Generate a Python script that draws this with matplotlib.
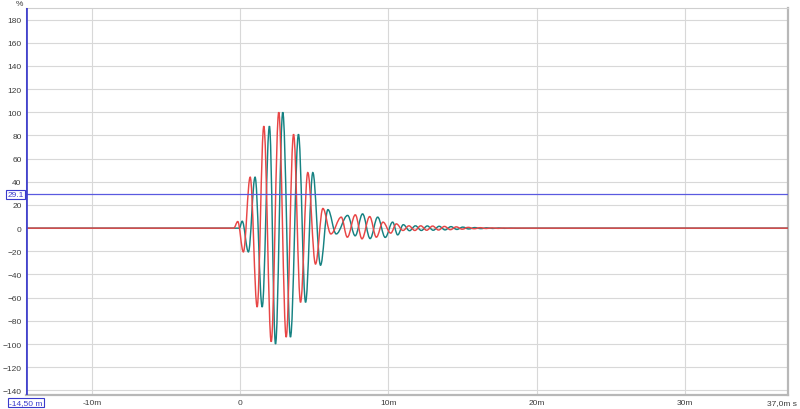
#!/usr/bin/env python3
"""Impulse response style plot: two overlaid oscillating responses."""

import matplotlib
matplotlib.use("Agg")
import matplotlib.pyplot as plt
from matplotlib.path import Path
from matplotlib.patches import PathPatch

# Extrema: time (ms) and level (%)
red_t = [-14.5, -0.45, -0.18, 0.20, 0.66, 1.13, 1.58, 2.08, 2.59, 3.09, 3.59,
         4.06, 4.55, 5.07, 5.57, 6.11, 6.81, 7.22, 7.76, 8.21, 8.73, 9.18,
         9.63, 10.15, 10.53, 10.98, 11.38, 11.78, 12.18, 12.58, 12.98, 13.38,
         13.78, 14.18, 14.58, 14.98, 15.38, 15.78, 16.2, 16.6, 17.0, 17.4,
         17.8, 18.2, 18.6, 19.5, 37.0]
red_v = [0, 0, 5.7, -20.5, 44, -68, 88, -98, 100, -94, 81,
         -64, 48, -31, 17, -5, 9.5, -7.8, 11.5, -9.2, 10, -7.8,
         5.2, -4.3, 3.7, -2.0, 2.0, -2.0, 2.0, -1.8, 1.8, -1.6,
         1.5, -1.3, 1.1, -0.9, 0.7, -0.5, 0.4, -0.3, 0.25, -0.2,
         0.15, -0.1, 0.08, 0, 0]

teal_t = [-14.5, -0.07, 0.12, 0.54, 0.99, 1.47, 1.96, 2.37, 2.86, 3.38, 3.92,
          4.40, 4.89, 5.41, 5.91, 6.47, 7.24, 7.75, 8.25, 8.76, 9.27, 9.78,
          10.28, 10.62, 11.0, 11.42, 11.82, 12.22, 12.62, 13.02, 13.42, 13.82,
          14.22, 14.62, 15.02, 15.42, 15.82, 16.24, 16.64, 17.04, 17.44,
          17.84, 18.24, 18.64, 19.6, 37.0]
teal_v = [0, 0, 6, -20.5, 44, -68, 88, -100, 100, -94, 81,
          -64, 48, -32, 16, -5, 11, -6.6, 12.3, -9.0, 9.5, -8.0,
          5.2, -5.8, 3.0, -2.2, 2.0, -2.0, 1.9, -1.8, 1.6, -1.5,
          1.3, -1.1, 0.9, -0.7, 0.5, -0.4, 0.3, -0.25, 0.2,
          -0.15, 0.1, -0.08, 0, 0]

cursor_x = -14.5
cursor_y = 29.1

x_ticks = [-10, 0, 10, 20, 30]
x_labels = ["-10m", "0", "10m", "20m", "30m"]
y_ticks = list(range(-140, 181, 20))


def smooth_path(ts, vs):
    """Cubic segments with flat tangents at every extremum."""
    verts = [(ts[0], vs[0])]
    codes = [Path.MOVETO]
    for t0, v0, t1, v1 in zip(ts[:-1], vs[:-1], ts[1:], vs[1:]):
        a = 0.3634 * (t1 - t0)
        verts += [(t0 + a, v0), (t1 - a, v1), (t1, v1)]
        codes += [Path.CURVE4] * 3
    return Path(verts, codes)


plt.rcParams["font.family"] = ["Liberation Sans", "DejaVu Sans"]
label_size = 6.0
text_grey = "#3c3c3c"
cursor_blue = "#3a3acc"

fig = plt.figure(figsize=(8.0, 4.1), dpi=100)
ax = fig.add_axes([25.7 / 800, 1 - 396 / 410, (788.3 - 25.7) / 800, (396 - 9) / 410])
ax.set_xlim(-14.5, 37.0)
ax.set_ylim(-144, 190)

ax.set_xticks(x_ticks)
ax.set_xticklabels(x_labels)
ax.set_yticks(y_ticks)
ax.tick_params(axis="both", length=0, labelsize=label_size, labelcolor=text_grey)
ax.tick_params(axis="y", pad=3)
ax.tick_params(axis="x", pad=3.2)
ax.grid(color="#d8d8d8", linewidth=0.8)
ax.set_axisbelow(True)

for side in ("top", "left"):
    ax.spines[side].set_color("#cfcfcf")
    ax.spines[side].set_linewidth(0.8)
for side in ("right", "bottom"):
    ax.spines[side].set_color("#b8b8b8")
    ax.spines[side].set_linewidth(1.6)

ax.add_patch(PathPatch(smooth_path(teal_t, teal_v), fill=False,
                       edgecolor="#168282", linewidth=1.05, zorder=3))
ax.add_patch(PathPatch(smooth_path(red_t, red_v), fill=False,
                       edgecolor="#e84646", linewidth=1.05, zorder=4))

# cursors
ax.axhline(cursor_y, color="#5a5ae0", linewidth=0.9, zorder=5)
ax.axvline(cursor_x, color="#4444cc", linewidth=2.0, zorder=5)

box = dict(boxstyle="square,pad=0.15", facecolor="white", edgecolor=cursor_blue, linewidth=0.8)
ax.annotate("29.1", xy=(0, cursor_y), xycoords=("axes fraction", "data"),
            xytext=(-1.5, 0), textcoords="offset points", ha="right", va="center",
            fontsize=label_size, color=cursor_blue, bbox=box, zorder=6)
fig.text(26 / 800, 1 - 403.5 / 410, "-14,50 m", ha="center", va="center",
         fontsize=label_size, color=cursor_blue, bbox=box)
fig.text(797 / 800, 1 - 403.5 / 410, "37,0m s", ha="right", va="center",
         fontsize=label_size, color=text_grey)
fig.text(19 / 800, 1 - 4 / 410, "%", ha="center", va="center",
         fontsize=label_size, color=text_grey)

fig.savefig("out.png", dpi=100)
plt.close(fig)
